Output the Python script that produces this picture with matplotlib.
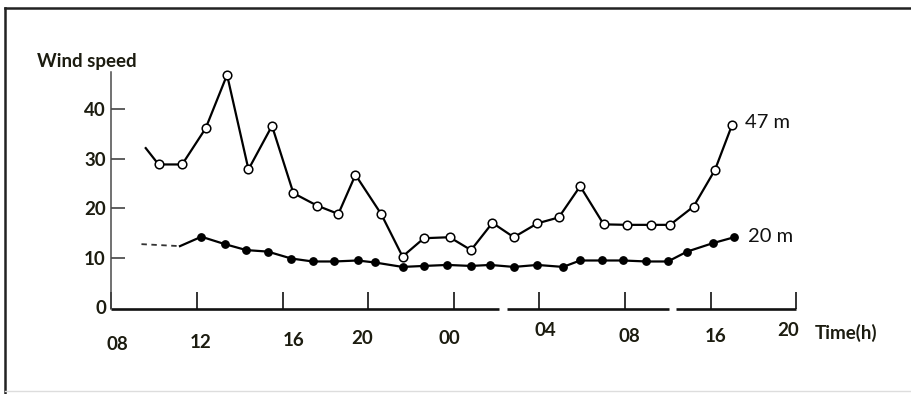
import matplotlib
matplotlib.use("Agg")
import matplotlib.pyplot as plt
from matplotlib.lines import Line2D
from matplotlib.transforms import ScaledTranslation

plt.rcParams["font.family"] = ["Lato", "DejaVu Sans"]

# Hours elapsed since 08:00 on the first day, and wind speed at 47 m
hours_47m = [1.6, 2.2, 3.3, 4.4, 5.4, 6.4, 7.5, 8.5, 9.6, 10.6,
             11.4, 12.6, 13.6, 14.6, 15.8, 16.8, 17.8, 18.8, 19.9, 20.9,
             21.9, 23.0, 24.1, 25.2, 26.1, 27.2, 28.2, 29.0]
speed_47m = [32.1, 28.8, 28.8, 36.1, 46.9, 27.8, 36.6, 23.0, 20.5, 18.8,
             26.7, 18.8, 10.2, 13.9, 14.1, 11.5, 17.0, 14.1, 16.9, 18.1,
             24.4, 16.7, 16.6, 16.6, 16.6, 20.3, 27.7, 36.8]

# Wind speed at 20 m
hours_20m = [1.4, 3.2, 4.2, 5.3, 6.3, 7.3, 8.4, 9.4, 10.4, 11.5,
             12.3, 13.6, 14.6, 15.7, 16.8, 17.7, 18.8, 19.9, 21.1, 21.9,
             22.9, 23.9, 25.0, 26.0, 26.9, 28.1, 29.1]
speed_20m = [12.7, 12.3, 14.2, 12.7, 11.5, 11.2, 9.8, 9.2, 9.2, 9.4,
             9.0, 8.1, 8.3, 8.5, 8.3, 8.5, 8.1, 8.5, 8.1, 9.4,
             9.4, 9.4, 9.2, 9.2, 11.2, 12.9, 14.1]

tick_hours = [0, 4, 8, 12, 16, 20, 24, 28, 32]
tick_labels = ["08", "12", "16", "20", "00", "04", "08", "16", "20"]
y_ticks = [0, 10, 20, 30, 40]
series_names = ["47 m", "20 m"]

INK = "#1c1c10"
DPI = 100
W, H = 912, 394

fig = plt.figure(figsize=(W / DPI, H / DPI), dpi=DPI)
fig.patch.set_facecolor("white")

# axes placed in pixel terms: x origin (08) at 111.5 px, baseline at 309 px
x_left, px_per_h = 111.5, 21.4
xmax = 33.6
ymin, ymax = -0.4, 47.5
px_per_unit = 4.95
ax = fig.add_axes([x_left / W, (H - 309) / H,
                   xmax * px_per_h / W, (ymax - ymin) * px_per_unit / H])
ax.set_xlim(0, xmax)
ax.set_ylim(ymin, ymax)
ax.patch.set_alpha(0)

for s in ("top", "right", "bottom"):
    ax.spines[s].set_visible(False)
ax.spines["left"].set_color("#4a4a4a")
ax.spines["left"].set_linewidth(1.1)

# 47 m series: open circles
ax.plot(hours_47m, speed_47m, color="black", lw=1.6, marker="o", ms=6.2,
        mfc="white", mec="black", mew=1.1, markevery=list(range(1, len(hours_47m))),
        clip_on=False, zorder=4)
# 20 m series: filled dots, faint dashed start
ax.plot(hours_20m[:2], speed_20m[:2], color="#333333", lw=1.3, ls=(0, (3, 2.5)),
        clip_on=False, zorder=3)
ax.plot(hours_20m[1:], speed_20m[1:], color="black", lw=1.6, marker="o", ms=5.3,
        mfc="black", mec="black", markevery=list(range(1, len(hours_20m) - 1)),
        clip_on=False, zorder=3)

# series names at the line ends
ax.annotate(series_names[0], (hours_47m[-1], speed_47m[-1]), xytext=(9, 1.5),
            textcoords="offset points", va="center", ha="left",
            fontsize=14.5, color="#111111")
ax.annotate(series_names[1], (hours_20m[-1], speed_20m[-1]), xytext=(10, 0.5),
            textcoords="offset points", va="center", ha="left",
            fontsize=14.5, color="#111111")

# y axis ticks and labels
ax.set_yticks(y_ticks)
ax.set_yticklabels([str(v) for v in y_ticks], fontsize=13.5, color=INK,
                   fontweight="bold")
ax.tick_params(axis="y", direction="in", length=10, width=1.1, color="#333333",
               pad=4)
ax.yaxis.get_major_ticks()[0].tick1line.set_visible(False)

# x axis: upward ticks, broken baseline, hand-offset labels
ax.set_xticks(tick_hours)
ax.set_xticklabels([])
ax.tick_params(axis="x", direction="in", length=12, width=1.2, color="#111111")
xt = ax.get_xaxis_transform()
for a, b in [(0.0, 18.1), (18.5, 26.05), (26.4, 32.0)]:
    ax.plot([a, b], [0, 0], transform=xt, color="#111111", lw=1.9,
            solid_capstyle="butt", clip_on=False, zorder=2)

label_dx = [6, 3, 11, -6, -5, 6, 4, 5, -8]
label_dy = [35, 33, 32, 30, 29, 21, 28, 27, 22]
for h, lab, dx, dy in zip(tick_hours, tick_labels, label_dx, label_dy):
    off = ScaledTranslation(dx / DPI, -dy / DPI, fig.dpi_scale_trans)
    ax.text(h, 0, lab, transform=xt + off, ha="center", va="center",
            fontsize=13.5, color=INK, fontweight="bold", clip_on=False)

fig.text(37 / W, 1 - 62 / H, "Wind speed", ha="left", va="center",
         fontsize=13.5, color=INK, fontweight="bold")
fig.text(815 / W, 1 - 333 / H, "Time(h)", ha="left", va="center",
         fontsize=13.5, color=INK, fontweight="bold")

# page frame
fig.add_artist(Line2D([5 / W, 5 / W], [0, 1 - 8 / H], transform=fig.transFigure,
                      color="#222222", lw=1.8))
fig.add_artist(Line2D([5 / W, 1], [1 - 8 / H, 1 - 8 / H], transform=fig.transFigure,
                      color="#222222", lw=1.8))
fig.add_artist(Line2D([5 / W, 1], [1 - 391 / H, 1 - 391 / H], transform=fig.transFigure,
                      color="#dddddd", lw=1.0))

fig.savefig("out.png", dpi=DPI, facecolor="white")
